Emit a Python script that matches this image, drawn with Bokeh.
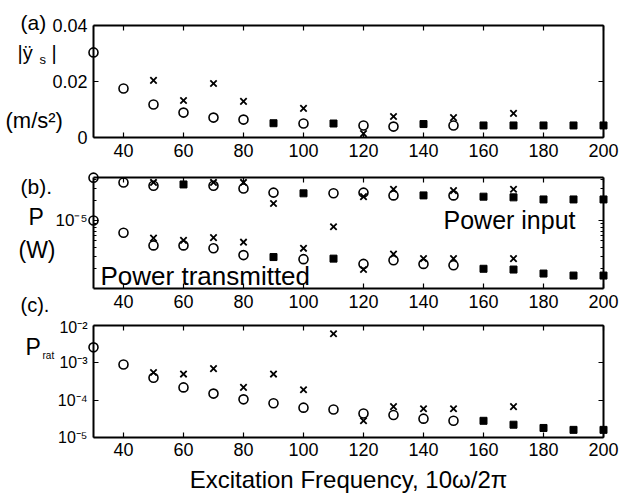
from bokeh.plotting import figure
from bokeh.models import Range1d, LinearAxis, LogAxis, FixedTicker, Label
from bokeh.layouts import column
from bokeh.embed import file_html
from bokeh.resources import INLINE

nan = float("nan")

# excitation frequency (x 10 omega / 2 pi)
freq = [30, 40, 50, 60, 70, 80, 90, 100, 110, 120, 130, 140, 150, 160, 170, 180, 190, 200]
x_ticks = [40, 60, 80, 100, 120, 140, 160, 180, 200]

# (a) base acceleration amplitude |y_s''|, m/s^2 ; o, x and coincident (filled) points
acc_o = [0.0304, 0.0175, 0.0118, 0.0089, 0.0071, 0.0064, nan, 0.0050, nan, 0.0043,
         0.0039, nan, 0.0043, nan, nan, nan, nan, nan]
acc_x = [nan, nan, 0.0204, 0.0132, 0.0193, 0.0129, nan, 0.0104, nan, 0.0014,
         0.0075, nan, 0.0071, nan, 0.0086, nan, nan, nan]
acc_sq = [nan, nan, nan, nan, nan, nan, 0.0051, nan, 0.0050, nan,
          nan, 0.0048, nan, 0.0043, 0.0043, 0.0043, 0.0043, 0.0043]
acc_ticks = [0, 0.02, 0.04]

# (b) power input, W
pin_o = [4.27e-5, 3.63e-5, 3.24e-5, nan, 3.24e-5, 2.95e-5, 2.57e-5, nan, 2.51e-5, 2.57e-5,
         2.34e-5, nan, 2.34e-5, nan, nan, nan, nan, nan]
pin_x = [nan, nan, 3.63e-5, nan, 3.63e-5, 3.63e-5, 1.78e-5, nan, 8.1e-6, 2.24e-5,
         2.88e-5, nan, 2.75e-5, nan, 2.88e-5, nan, nan, nan]
pin_sq = [nan, nan, nan, 3.39e-5, nan, nan, nan, 2.51e-5, nan, nan,
          nan, 2.34e-5, nan, 2.24e-5, 2.19e-5, 2.04e-5, 2.04e-5, 2.04e-5]

# (b) power transmitted, W
ptr_o = [1.0e-5, 6.6e-6, 4.3e-6, 4.3e-6, 3.9e-6, 3.1e-6, nan, 2.7e-6, nan, 2.3e-6,
         2.6e-6, 2.3e-6, 2.2e-6, nan, nan, nan, nan, nan]
ptr_x = [nan, nan, 5.5e-6, 5.1e-6, 5.6e-6, 4.8e-6, nan, 3.9e-6, nan, 1.9e-6,
         3.2e-6, 2.75e-6, 2.75e-6, nan, 2.75e-6, nan, nan, nan]
ptr_sq = [nan, nan, nan, nan, nan, nan, 2.9e-6, nan, 2.75e-6, nan,
          nan, nan, nan, 1.95e-6, 1.9e-6, 1.66e-6, 1.55e-6, 1.55e-6]
pw_ticks = [1e-5]
pw_minor = [2e-6, 3e-6, 4e-6, 5e-6, 6e-6, 7e-6, 8e-6, 9e-6, 2e-5, 3e-5, 4e-5]

# (c) power ratio
rat_o = [2.6e-3, 9e-4, 4e-4, 2.2e-4, 1.5e-4, 1.05e-4, 8.3e-5, 6.3e-5, 5.6e-5, 4.4e-5,
         4e-5, 3.2e-5, 2.8e-5, nan, nan, nan, nan, nan]
rat_x = [nan, nan, 5.5e-4, 5e-4, 7e-4, 2.2e-4, 5e-4, 1.9e-4, 6e-3, 2.8e-5,
         6.7e-5, 5.9e-5, 5.9e-5, nan, 6.7e-5, nan, nan, nan]
rat_sq = [nan, nan, nan, nan, nan, nan, nan, nan, nan, nan,
          nan, nan, nan, 2.8e-5, 2.2e-5, 1.8e-5, 1.6e-5, 1.6e-5]
rat_ticks = [1e-5, 1e-4, 1e-3, 1e-2]
rat_tick_labels = ["10\u207b\u2075", "10\u207b\u2074", "10\u207b\u00b3", "10\u207b\u00b2"]

FONT = "Liberation Sans"

# page layout: each panel's box spans x = 30..200 over page pixels 93..603
X_LO, X_HI = 30, 200
BOX_L, BOX_R, PAGE_W = 93, 603, 622
X_PER_PX = (X_HI - X_LO) / (BOX_R - BOX_L)


def fx(px):
    return X_LO + (px - BOX_L) * X_PER_PX


def lin_y(lo, hi, py_lo, py_hi):
    return lambda py: lo + (py_lo - py) * (hi - lo) / (py_lo - py_hi)


def log_y(ref, py_ref, px_per_decade):
    return lambda py: ref * 10 ** (-(py - py_ref) / px_per_decade)


def style_axis(ax, ticks, minor=None, labels=True, overrides=None, font_size="18px"):
    ax.ticker = FixedTicker(ticks=ticks, minor_ticks=minor or [])
    ax.axis_line_color = "black"
    ax.axis_line_width = 2
    ax.major_tick_in = 5
    ax.major_tick_out = 0
    ax.major_tick_line_width = 1.2
    ax.minor_tick_in = 3
    ax.minor_tick_out = 0
    ax.minor_tick_line_width = 1
    ax.major_label_text_font = FONT
    ax.major_label_text_color = "black"
    if labels:
        ax.major_label_text_font_size = font_size
        ax.major_label_standoff = 6
        if overrides:
            ax.major_label_overrides = overrides
    else:
        # mirror axis on the opposite side of the box: ticks only
        ax.major_label_text_font_size = "1px"
        ax.major_label_standoff = 0
        ax.major_label_overrides = {t: "" for t in ticks}


def make_panel(height, fy, py_top, y_lo, y_hi, y_type, yt, yminor=None,
               overrides=None, y_font="18px"):
    """Panel whose plotting frame fills the canvas; the axes are pinned
    to the data box (30..200, y_lo..y_hi) with fixed_location."""
    y_range = Range1d(fy(py_top + height), fy(py_top))
    p = figure(width=PAGE_W, height=height, x_range=Range1d(fx(0), fx(PAGE_W)),
               y_range=y_range, y_axis_type=y_type, output_backend="svg",
               toolbar_location=None, min_border=0, min_border_left=0,
               min_border_right=0, min_border_top=0, min_border_bottom=0)
    p.grid.visible = False
    p.outline_line_color = None
    p.background_fill_color = "white"
    p.border_fill_color = "white"

    bottom = p.xaxis[0]
    style_axis(bottom, x_ticks)
    bottom.fixed_location = y_lo
    bottom.bounds = (X_LO, X_HI)

    left = p.yaxis[0]
    style_axis(left, yt, yminor, overrides=overrides, font_size=y_font)
    left.fixed_location = X_LO
    left.bounds = (y_lo, y_hi)

    top = LinearAxis()
    style_axis(top, x_ticks, labels=False)
    top.fixed_location = y_hi
    top.bounds = (X_LO, X_HI)
    p.add_layout(top, "above")

    right = LogAxis() if y_type == "log" else LinearAxis()
    style_axis(right, yt, yminor, labels=False)
    right.fixed_location = X_HI
    right.bounds = (y_lo, y_hi)
    p.add_layout(right, "right")
    return p, bottom


def draw(p, o, x, sq):
    p.scatter(freq, o, marker="circle", size=9, fill_color=None,
              line_color="black", line_width=1.6)
    p.scatter(freq, x, marker="x", size=9, line_color="black", line_width=1.8)
    p.scatter(freq, sq, marker="square", size=7, fill_color="black",
              line_color="black", line_width=1)


def lab(p, fy, px, py, text, size):
    # px, py: left edge and baseline in page pixels; the label box sits
    # about 0.37 em below the requested baseline, so lift it by that much
    py = py - 0.37 * size
    p.add_layout(Label(x=fx(px), y=fy(py), text=text, text_font=FONT,
                       text_font_size=f"{size}px", text_color="black",
                       text_align="left", text_baseline="alphabetic"))


# ---------------- (a) acceleration ----------------
fa = lin_y(0, 0.04, 137, 25)
pa, _ = make_panel(167, fa, 0, 0, 0.04, "linear", acc_ticks,
                   overrides={0: "0", 0.02: "0.02", 0.04: "0.04"})
draw(pa, acc_o, acc_x, acc_sq)
lab(pa, fa, 20, 30, "(a)", 21)
lab(pa, fa, 17, 60, "|\u00ff", 20)
lab(pa, fa, 39, 64, "s", 13)
lab(pa, fa, 51, 60, "|", 20)
lab(pa, fa, 5, 128, "(m/s\u00b2)", 22)

# ---------------- (b) power ----------------
fb = log_y(1e-5, 220, 68.0)
pb, _ = make_panel(151, fb, 167, fb(288), fb(177), "log", pw_ticks, pw_minor,
                   overrides={1e-5: "10\u207b\u2075"}, y_font="17px")
draw(pb, pin_o, pin_x, pin_sq)
draw(pb, ptr_o, ptr_x, ptr_sq)
lab(pb, fb, 20, 194, "(b).", 21)
lab(pb, fb, 28, 225, "P", 23)
lab(pb, fb, 18, 258, "(W)", 23)
lab(pb, fb, 443, 229, "Power input", 25)
lab(pb, fb, 100, 285, "Power transmitted", 26)
lab(pb, fb, 20, 312, "(c).", 20)

# ---------------- (c) power ratio ----------------
fc = log_y(1e-2, 325, 37.33)
pc, pc_x = make_panel(182, fc, 318, 1e-5, 1e-2, "log", rat_ticks,
                      overrides=dict(zip(rat_ticks, rat_tick_labels)), y_font="16px")
pc_x.axis_label = "Excitation Frequency, 10\u03c9/2\u03c0"
pc_x.axis_label_text_font = FONT
pc_x.axis_label_text_font_size = "24px"
pc_x.axis_label_text_font_style = "normal"
pc_x.axis_label_text_color = "black"
pc_x.axis_label_standoff = 6
draw(pc, rat_o, rat_x, rat_sq)
lab(pc, fc, 25, 355, "P", 23)
lab(pc, fc, 42, 359, "rat", 10)

layout = column(pa, pb, pc, spacing=0)
open("out.html", "w").write(file_html(layout, INLINE))
